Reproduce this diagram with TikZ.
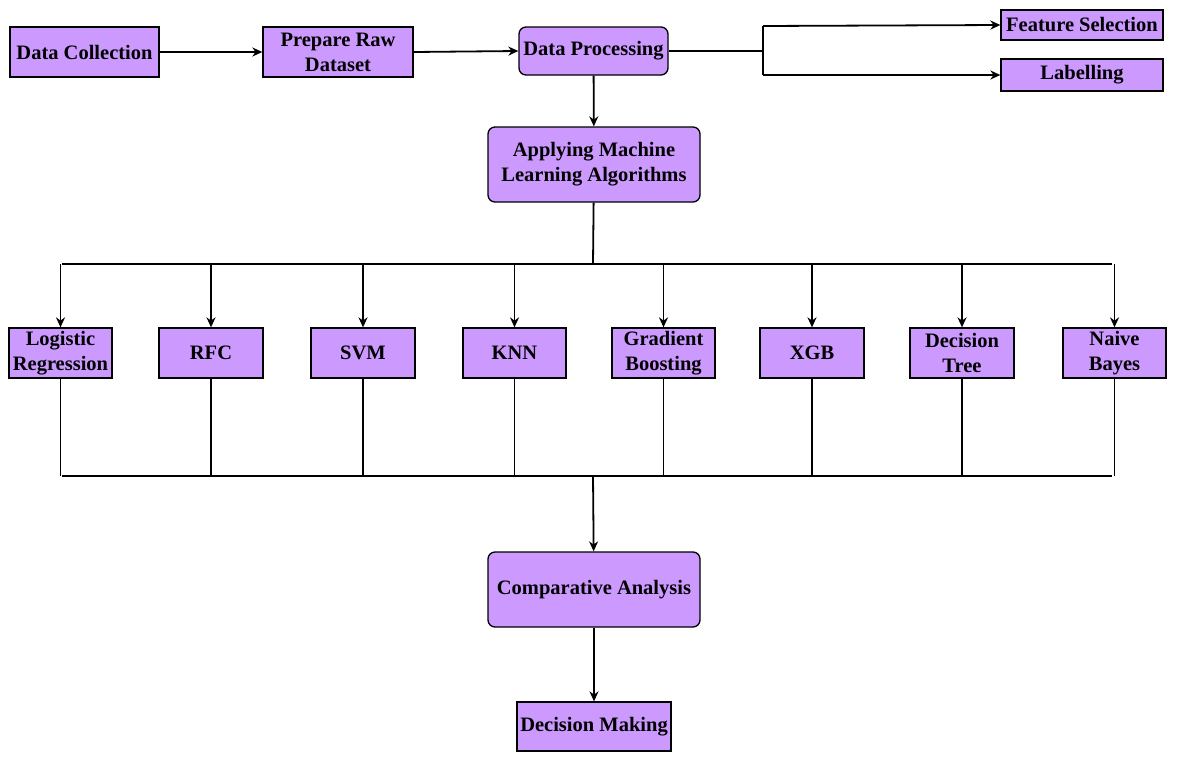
\documentclass[tikz,border=0pt]{standalone}
\usepackage{fontspec}
\setmainfont{Liberation Serif}
\usetikzlibrary{arrows.meta}
\definecolor{boxc}{HTML}{CC99FF}
\begin{document}
\begin{tikzpicture}[x=1pt,y=-1pt,
  box/.style={draw=black,fill=boxc,line width=1.3pt,inner sep=0pt,align=center,font=\fontsize{20.5}{25}\selectfont\bfseries},
  rbox/.style={box,rounded corners=7pt},
  ln/.style={line width=1.8pt},
  ar/.style={ln,-{Stealth[length=10pt,width=9pt]}}]
\useasboundingbox (0,0) rectangle (1185,763);
\newcommand\bx[6]{\node[#1,minimum width=#4-#3,minimum height=#6-#5] (#2) at ({(#3+#4)/2},{(#5+#6)/2})}
\bx{box}{dc}{10}{159}{27}{77}{Data Collection};
\bx{box}{prd}{263}{413}{27}{77}{Prepare Raw\\Dataset};
\bx{rbox}{dp}{519}{668}{27}{75}{Data Processing};
\bx{box}{fs}{1001}{1163}{10}{40}{Feature Selection};
\bx{box}{lab}{1001}{1163}{59}{91}{Labelling};
\bx{rbox}{ml}{488}{700}{127}{202}{Applying Machine\\Learning Algorithms};
\bx{box}{a1}{9}{112}{328}{378}{Logistic\\Regression};
\bx{box}{a2}{159}{263}{328}{378}{RFC};
\bx{box}{a3}{311}{415}{328}{378}{SVM};
\bx{box}{a4}{463}{566}{328}{378}{KNN};
\bx{box}{a5}{612}{715}{328}{378}{Gradient\\Boosting};
\bx{box}{a6}{760}{864}{328}{378}{XGB};
\bx{box}{a7}{910}{1014}{328}{378}{Decision\\Tree};
\bx{box}{a8}{1063}{1166}{328}{378}{Naive\\Bayes};
\bx{rbox}{ca}{488}{700}{552}{627}{Comparative Analysis};
\bx{box}{dm}{517}{671}{702}{751}{Decision Making};
\draw[ar] (dc) -- (prd);
\draw[ar] (prd.east) -- (dp.west);
\coordinate (sp) at (763,51);
\draw[ln] (dp.east) -- (sp);
\draw[ln] (763,26) -- (763,75);
\draw[ar] (763,26) -- (fs.west);
\draw[ar] (763,75) -- (lab.west);
\draw[ar] (dp) -- (ml);
\coordinate (bt) at (593,264);
\coordinate (bb) at (593,476);
\draw[ln] (ml) -- (bt);
\draw[ln] (62,264) -- (1112,264);
\draw[ln] (62,476) -- (1112,476);
\foreach \n in {a1,a2,a3,a4,a5,a6,a7,a8}{
  \draw[ar] (\n.north |- bt) -- (\n.north);
  \draw[ln] (\n.south) -- (\n.south |- bb);
}
\draw[ar] (bb) -- (ca);
\draw[ar] (ca) -- (dm);
\end{tikzpicture}
\end{document}
